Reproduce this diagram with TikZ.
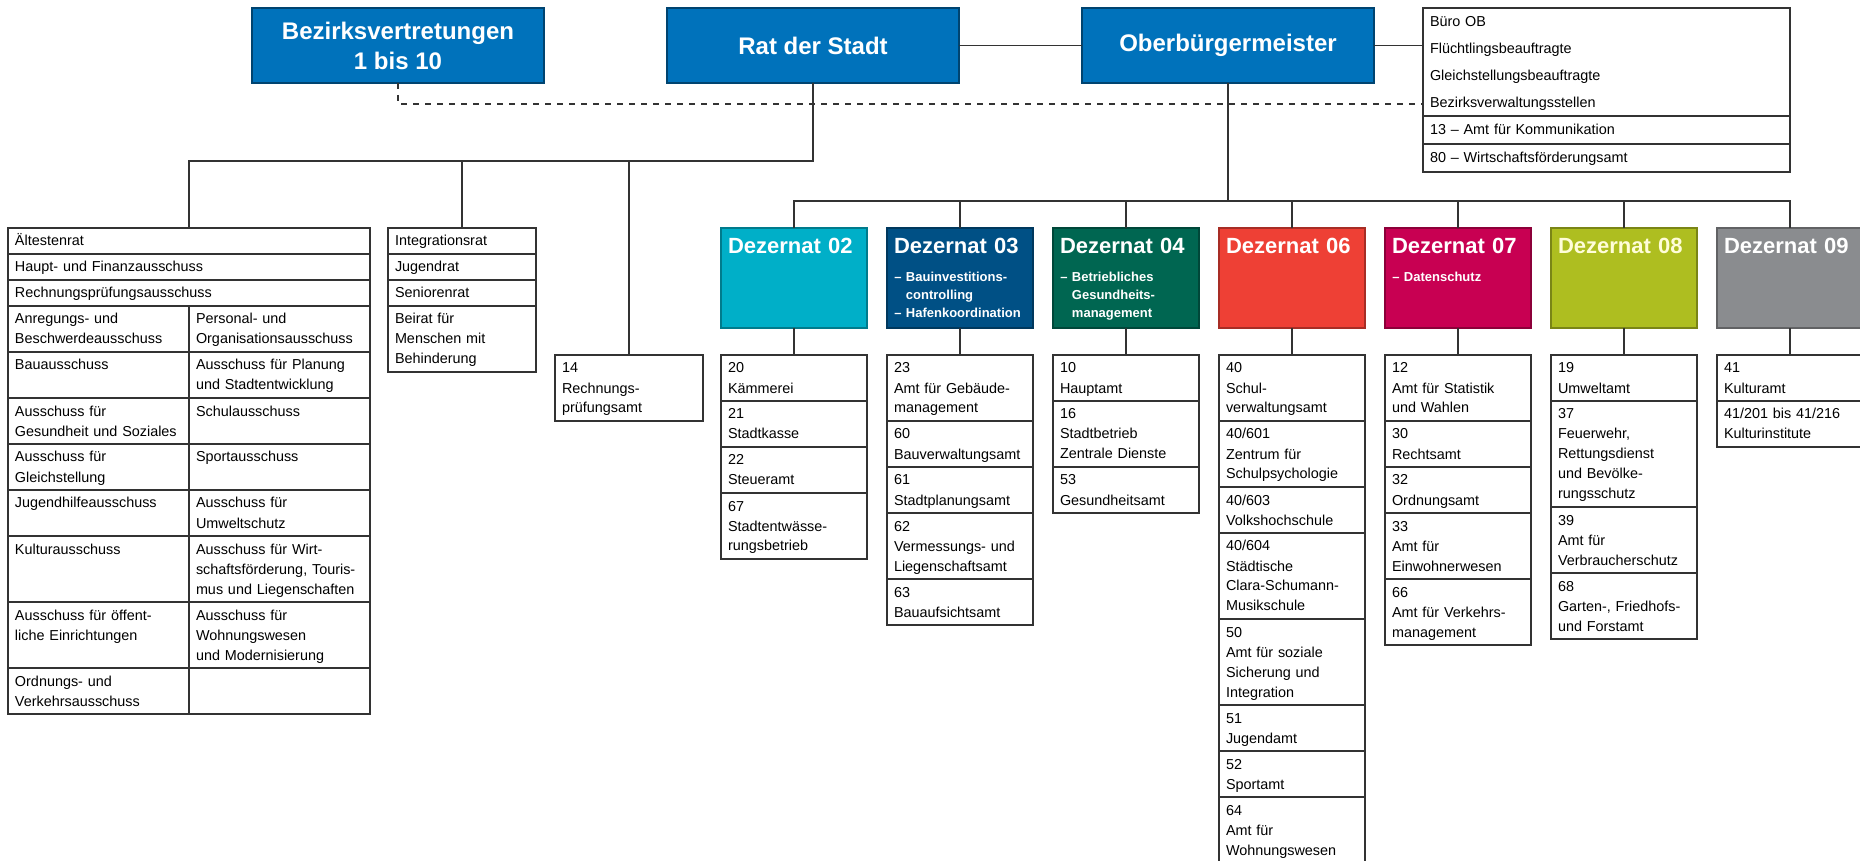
\documentclass[tikz,border=0pt]{standalone}
\usepackage{fontspec}
\setmainfont{Liberation Sans}
\usetikzlibrary{calc}
\usetikzlibrary{positioning}
\definecolor{stadtblau}{RGB}{0,114,187}
\definecolor{dez02}{RGB}{0,175,200}
\definecolor{dez03}{RGB}{0,80,133}
\definecolor{dez04}{RGB}{0,102,81}
\definecolor{dez06}{RGB}{238,64,53}
\definecolor{dez07}{RGB}{200,0,82}
\definecolor{dez08}{RGB}{174,190,32}
\definecolor{dez09}{RGB}{138,140,143}
\tikzset{
	cell/.style={draw=black!80, line width=0.6pt, anchor=north west, align=left, inner xsep=3.5pt, inner ysep=1.5pt, outer sep=0pt, text height=7.5pt, font=\fontsize{7.2}{10}\selectfont},
	zl1/.style={text depth=2.5pt},
	zl2/.style={text depth=12.5pt},
	zl3/.style={text depth=22.5pt},
	zl4/.style={text depth=32.5pt},
	zl5/.style={text depth=42.5pt},
	colfull/.style={text width=174pt},
	colhalf/.style={text width=83.5pt},
	colrat/.style={text width=67pt},
	colamt/.style={text width=66pt},
	colbuero/.style={text width=176.5pt},
	topbox/.style={fill=stadtblau, draw=stadtblau!60!black, line width=0.6pt, text=white, anchor=north west, minimum width=146pt, minimum height=37.5pt, inner sep=0pt, outer sep=0pt, align=center, font=\bfseries\fontsize{12}{15}\selectfont},
	dezbox/.style={fill=#1, draw=#1!70!black, line width=0.6pt, text=white, anchor=north west, align=left, text width=66pt, inner xsep=3.5pt, inner ysep=0pt, outer sep=0pt, text height=13pt, text depth=37pt, font=\bfseries\fontsize{11}{13}\selectfont},
	dezsub/.style={text=white, anchor=base west, align=left, text width=66pt, inner sep=0pt, font=\bfseries\fontsize{6.5}{9}\selectfont},
	link/.style={draw=black!80, line width=0.7pt},
}
\newcommand{\zeile}[4] % name, north west corner, column and lines, text
{
	\node[cell, #3] (#1) at #2 {#4};
}
\newcommand{\dezernat}[4] % name, x in px, colour, title
{
	\node[dezbox=#3] (#1) at (#2,228) {\mbox{#4}};
}

\begin{document}
\begin{tikzpicture}[x=0.5pt, y=-0.5pt]
	% 1860 x 861 px, 1 px = 0.5pt
	\useasboundingbox (0,0) rectangle (1860,861);
	\coordinate (dash) at (0,104);
	\coordinate (rbus) at (0,161);
	\coordinate (dbus) at (0,201);
	\coordinate (ltop) at (0,355);
	
	% Spitze
	\node[topbox] (bzv) at (252,8) {Bezirksvertretungen\\1 bis 10};
	\node[topbox] (rat) at (667,8) {Rat der Stadt};
	\node[topbox] (ob) at (1082,8) {Oberbürgermeister};
	
	\node[cell, colbuero, text height=8pt, text depth=43pt, font=\fontsize{7.2}{13.5}\selectfont] (buero) at (1423,8) {Büro OB\\Flüchtlingsbeauftragte\\Gleichstellungsbeauftragte\\Bezirksverwaltungsstellen};
	\zeile{b13}{(buero.south west)}{colbuero, text height=8pt, text depth=3pt}{13 – Amt für Kommunikation}
	\zeile{b80}{(b13.south west)}{colbuero, text height=8pt, text depth=3pt}{80 – Wirtschaftsförderungsamt}
	
	\draw[link] (rat.east) -- (ob.west);
	\draw[link] (ob.east) -- (ob.east -| buero.west);
	\draw[link, dashed] (bzv.south) -- (bzv.south |- dash) -- (dash -| buero.west);
	
	% Ausschuesse
	\zeile{aelt}{(8,228)}{colfull,zl1}{Ältestenrat}
	\zeile{t2}{(aelt.south west)}{colfull,zl1}{Haupt- und Finanzausschuss}
	\zeile{t3}{(t2.south west)}{colfull,zl1}{Rechnungsprüfungsausschuss}
	\zeile{t4l}{(t3.south west)}{colhalf,zl2}{Anregungs- und\\Beschwerdeausschuss}
	\zeile{t4r}{(t4l.north east)}{colhalf,zl2}{Personal- und\\Organisationsausschuss}
	\zeile{t5l}{(t4l.south west)}{colhalf,zl2}{Bauausschuss}
	\zeile{t5r}{(t5l.north east)}{colhalf,zl2}{Ausschuss für Planung\\und Stadtentwicklung}
	\zeile{t6l}{(t5l.south west)}{colhalf,zl2}{Ausschuss für\\Gesundheit und Soziales}
	\zeile{t6r}{(t6l.north east)}{colhalf,zl2}{Schulausschuss}
	\zeile{t7l}{(t6l.south west)}{colhalf,zl2}{Ausschuss für\\Gleichstellung}
	\zeile{t7r}{(t7l.north east)}{colhalf,zl2}{Sportausschuss}
	\zeile{t8l}{(t7l.south west)}{colhalf,zl2}{Jugendhilfeausschuss}
	\zeile{t8r}{(t8l.north east)}{colhalf,zl2}{Ausschuss für\\Umweltschutz}
	\zeile{t9l}{(t8l.south west)}{colhalf,zl3}{Kulturausschuss}
	\zeile{t9r}{(t9l.north east)}{colhalf,zl3}{Ausschuss für Wirt-\\schaftsförderung, Touris-\\mus und Liegenschaften}
	\zeile{t10l}{(t9l.south west)}{colhalf,zl3}{Ausschuss für öffent-\\liche Einrichtungen}
	\zeile{t10r}{(t10l.north east)}{colhalf,zl3}{Ausschuss für\\Wohnungswesen\\und Modernisierung}
	\zeile{t11l}{(t10l.south west)}{colhalf,zl2}{Ordnungs- und\\Verkehrsausschuss}
	\zeile{t11r}{(t11l.north east)}{colhalf,zl2}{}
	
	\zeile{integ}{(388,228)}{colrat,zl1}{Integrationsrat}
	\zeile{jug}{(integ.south west)}{colrat,zl1}{Jugendrat}
	\zeile{sen}{(jug.south west)}{colrat,zl1}{Seniorenrat}
	\zeile{beirat}{(sen.south west)}{colrat,zl3}{Beirat für\\Menschen mit\\Behinderung}
	
	\zeile{rpa}{(555,355)}{colrat,zl3}{14\\Rechnungs-\\prüfungsamt}
	
	\draw[link] (rat.south) -- (rat.south |- rbus) -- (aelt.north |- rbus) -- (aelt.north);
	\draw[link] (integ.north) -- (integ.north |- rbus);
	\draw[link] (rpa.north) -- (rpa.north |- rbus);
	
	% Dezernate
	\dezernat{d02}{721}{dez02}{Dezernat 02}
	\dezernat{d03}{887}{dez03}{Dezernat 03}
	\dezernat{d04}{1053}{dez04}{Dezernat 04}
	\dezernat{d06}{1219}{dez06}{Dezernat 06}
	\dezernat{d07}{1385}{dez07}{Dezernat 07}
	\dezernat{d08}{1551}{dez08}{\color{yellow!15!white}Dezernat 08}
	\dezernat{d09}{1717}{dez09}{Dezernat 09}
	
	\node[dezsub] (d03t) at ([shift={(3.5pt,-27pt)}]d03.north west) {– Bauinvestitions-\\\phantom{– }controlling\\– Hafenkoordination};
	\node[dezsub] (d04t) at ([shift={(3.5pt,-27pt)}]d04.north west) {– Betriebliches\\\phantom{– }Gesundheits-\\\phantom{– }management};
	\node[dezsub] (d07t) at ([shift={(3.5pt,-27pt)}]d07.north west) {– Datenschutz};
	
	\draw[link] (ob.south) -- (ob.south |- dbus);
	\draw[link] (d02.north) -- (d02.north |- dbus) -- (d09.north |- dbus) -- (d09.north);
	\foreach \n in {d03,d04,d06,d07,d08}
		\draw[link] (\n.north) -- (\n.north |- dbus);
	
	% Aemter
	\zeile{l02}{(d02.south west |- ltop)}{colamt,zl2}{20\\Kämmerei}
	\zeile{l02b}{(l02.south west)}{colamt,zl2}{21\\Stadtkasse}
	\zeile{l02c}{(l02b.south west)}{colamt,zl2}{22\\Steueramt}
	\zeile{l02d}{(l02c.south west)}{colamt,zl3}{67\\Stadtentwässe-\\rungsbetrieb}
	
	\zeile{l03}{(d03.south west |- ltop)}{colamt,zl3}{23\\Amt für Gebäude-\\management}
	\zeile{l03b}{(l03.south west)}{colamt,zl2}{60\\Bauverwaltungsamt}
	\zeile{l03c}{(l03b.south west)}{colamt,zl2}{61\\Stadtplanungsamt}
	\zeile{l03d}{(l03c.south west)}{colamt,zl3}{62\\Vermessungs- und\\Liegenschaftsamt}
	\zeile{l03e}{(l03d.south west)}{colamt,zl2}{63\\Bauaufsichtsamt}
	
	\zeile{l04}{(d04.south west |- ltop)}{colamt,zl2}{10\\Hauptamt}
	\zeile{l04b}{(l04.south west)}{colamt,zl3}{16\\Stadtbetrieb\\Zentrale Dienste}
	\zeile{l04c}{(l04b.south west)}{colamt,zl2}{53\\Gesundheitsamt}
	
	\zeile{l06}{(d06.south west |- ltop)}{colamt,zl3}{40\\Schul-\\verwaltungsamt}
	\zeile{l06b}{(l06.south west)}{colamt,zl3}{40/601\\Zentrum für\\Schulpsychologie}
	\zeile{l06c}{(l06b.south west)}{colamt,zl2}{40/603\\Volkshochschule}
	\zeile{l06d}{(l06c.south west)}{colamt,zl4}{40/604\\Städtische\\Clara-Schumann-\\Musikschule}
	\zeile{l06e}{(l06d.south west)}{colamt,zl4}{50\\Amt für soziale\\Sicherung und\\Integration}
	\zeile{l06f}{(l06e.south west)}{colamt,zl2}{51\\Jugendamt}
	\zeile{l06g}{(l06f.south west)}{colamt,zl2}{52\\Sportamt}
	\zeile{l06h}{(l06g.south west)}{colamt,zl3}{64\\Amt für\\Wohnungswesen}
	
	\zeile{l07}{(d07.south west |- ltop)}{colamt,zl3}{12\\Amt für Statistik\\und Wahlen}
	\zeile{l07b}{(l07.south west)}{colamt,zl2}{30\\Rechtsamt}
	\zeile{l07c}{(l07b.south west)}{colamt,zl2}{32\\Ordnungsamt}
	\zeile{l07d}{(l07c.south west)}{colamt,zl3}{33\\Amt für\\Einwohnerwesen}
	\zeile{l07e}{(l07d.south west)}{colamt,zl3}{66\\Amt für Verkehrs-\\management}
	
	\zeile{l08}{(d08.south west |- ltop)}{colamt,zl2}{19\\Umweltamt}
	\zeile{l08b}{(l08.south west)}{colamt,zl5}{37\\Feuerwehr,\\Rettungsdienst\\und Bevölke-\\rungsschutz}
	\zeile{l08c}{(l08b.south west)}{colamt,zl3}{39\\Amt für\\Verbraucherschutz}
	\zeile{l08d}{(l08c.south west)}{colamt,zl3}{68\\Garten-, Friedhofs-\\und Forstamt}
	
	\zeile{l09}{(d09.south west |- ltop)}{colamt,zl2}{41\\Kulturamt}
	\zeile{l09b}{(l09.south west)}{colamt,zl2}{41/201 bis 41/216\\Kulturinstitute}
	
	\foreach \n in {02,03,04,06,07,08,09}
		\draw[link] (d\n.south) -- (l\n.north);
\end{tikzpicture}
\end{document}
